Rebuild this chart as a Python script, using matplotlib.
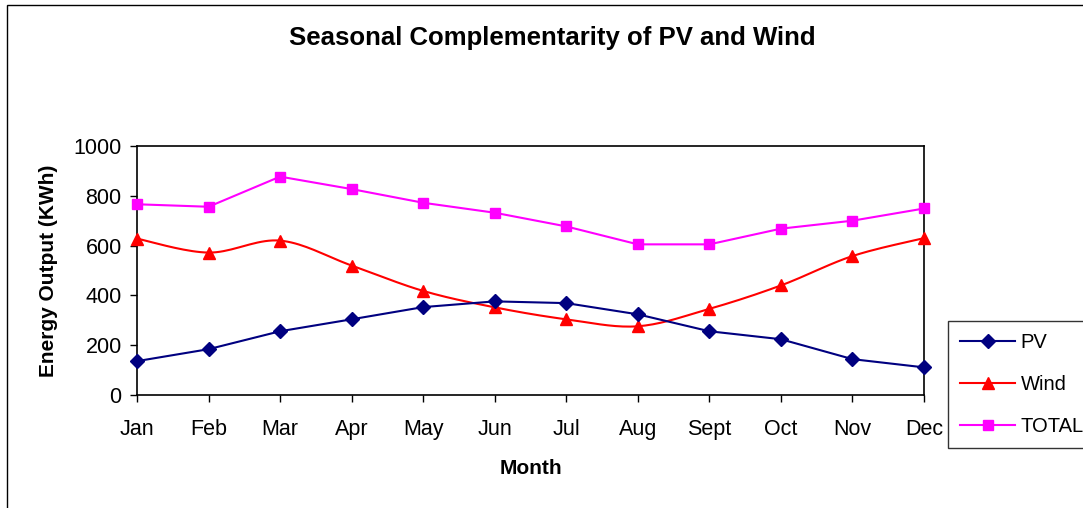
import numpy as np
import matplotlib
matplotlib.use("Agg")
import matplotlib.pyplot as plt
from matplotlib.patches import Rectangle
from matplotlib.lines import Line2D

months = ["Jan", "Feb", "Mar", "Apr", "May", "Jun", "Jul", "Aug", "Sept", "Oct", "Nov", "Dec"]
pv = [136, 184, 256, 304, 353, 376, 369, 324, 256, 224, 144, 111]
wind = [628, 572, 620, 520, 418, 352, 304, 276, 346, 440, 558, 630]
total = [766, 756, 877, 827, 772, 732, 677, 605, 605, 668, 700, 749]
yticks = [0, 200, 400, 600, 800, 1000]

plt.rcParams['font.family'] = ['Liberation Sans', 'DejaVu Sans']

W, H = 1083, 508
fig = plt.figure(figsize=(W / 100, H / 100), dpi=100)
fig.patch.set_facecolor('white')

# chart-area border
fig.patches.append(Rectangle((7 / W, -0.1), 1.2, 1 - 5 / H + 0.1, transform=fig.transFigure,
                             fill=False, edgecolor='black', linewidth=1.0))

ax = fig.add_axes([137 / W, 1 - 395 / H, (924 - 137) / W, (395 - 146) / H])
x = np.arange(len(months))


def smooth(xs, ys, n=20):
    xs = np.asarray(xs, float)
    ys = np.asarray(ys, float)
    px = np.concatenate([[xs[0]], xs, [xs[-1]]])
    py = np.concatenate([[ys[0]], ys, [ys[-1]]])
    outx, outy = [], []
    t = np.linspace(0, 1, n)
    for i in range(1, len(px) - 2):
        p0 = np.array([px[i], py[i]])
        p3 = np.array([px[i + 1], py[i + 1]])
        p1 = p0 + (np.array([px[i + 1], py[i + 1]]) - np.array([px[i - 1], py[i - 1]])) / 6
        p2 = p3 - (np.array([px[i + 2], py[i + 2]]) - np.array([px[i], py[i]])) / 6
        b = ((1 - t) ** 3)[:, None] * p0 + (3 * (1 - t) ** 2 * t)[:, None] * p1 + \
            (3 * (1 - t) * t ** 2)[:, None] * p2 + (t ** 3)[:, None] * p3
        outx.extend(b[:, 0])
        outy.extend(b[:, 1])
    return outx, outy


c_pv, c_wind, c_tot = '#000080', '#FF0000', '#FF00FF'

ax.plot(x, total, color=c_tot, lw=1.5, marker='s', ms=7.5, clip_on=False, zorder=3)
sx, sy = smooth(x, wind)
ax.plot(sx, sy, color=c_wind, lw=1.5, clip_on=False, zorder=3)
ax.plot(x, wind, ls='none', color=c_wind, marker='^', ms=9, clip_on=False, zorder=4)
ax.plot(x, pv, color=c_pv, lw=1.5, marker='D', ms=7, clip_on=False, zorder=5)

ax.set_xlim(0, 11)
ax.set_ylim(0, 1000)
ax.set_xticks(x)
ax.set_xticklabels(months, fontsize=15.5)
ax.set_yticks(yticks)
ax.set_yticklabels([str(v) for v in yticks], fontsize=15.5)
ax.tick_params(direction='out', length=5, width=1, colors='black')
ax.tick_params(axis='x', pad=12)
ax.tick_params(axis='y', pad=6)
for s in ax.spines.values():
    s.set_color('black')
    s.set_linewidth(1.2)

ax.set_xlabel("Month", fontsize=15, fontweight='bold', labelpad=14)
ax.set_ylabel("Energy Output (KWh)", fontsize=15, fontweight='bold', labelpad=11)
fig.text(552 / W, 1 - 38 / H, "Seasonal Complementarity of PV and Wind", ha='center', va='center',
         fontsize=18.5, fontweight='bold')

handles = [
    Line2D([], [], color=c_pv, lw=1.5, marker='D', ms=7),
    Line2D([], [], color=c_wind, lw=1.5, marker='^', ms=9),
    Line2D([], [], color=c_tot, lw=1.5, marker='s', ms=7.5),
]
leg = fig.legend(handles, ["PV", "Wind", "TOTAL"], loc='upper left',
                 bbox_to_anchor=(948 / W, 1 - 321 / H), fontsize=14.5, handlelength=2.75,
                 labelspacing=1.15, frameon=True, fancybox=False, borderpad=0.6,
                 handletextpad=0.25, borderaxespad=0)
leg.get_frame().set_edgecolor('black')
leg.get_frame().set_linewidth(1.0)

fig.savefig("out.png", dpi=100)
